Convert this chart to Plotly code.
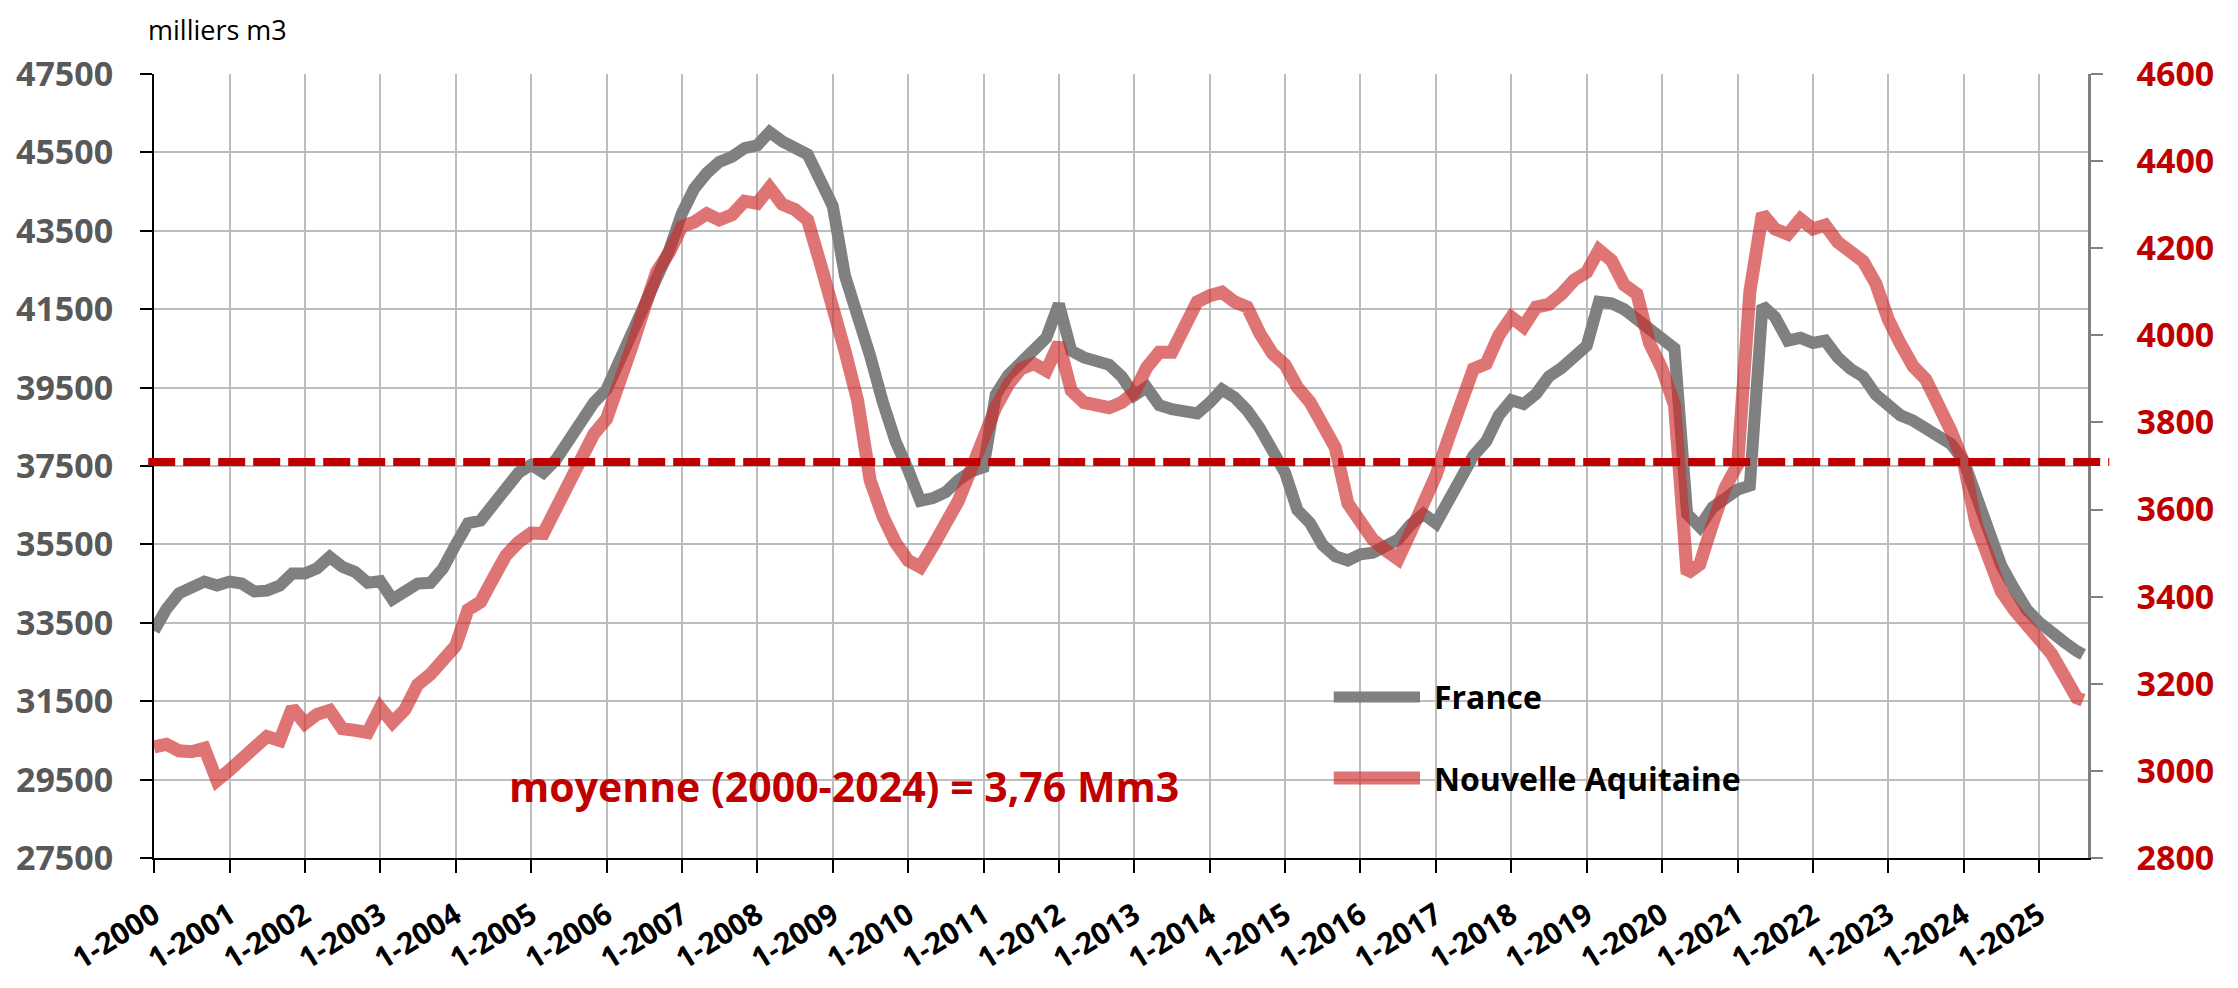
import plotly.graph_objects as go

# monthly series, read every 2 months (Jan, Mar, May, Jul, Sep, Nov) + last point Aug 2025
months = [f"{2000 + m // 12}-{m % 12 + 1:02d}-01" for m in range(0, 307, 2)] + ["2025-08-01"]

# France, milliers m3 (left axis)
france = [
    33300, 33850, 34250, 34400, 34550, 34450,  # 2000
    34550, 34500, 34300, 34320, 34450, 34760,  # 2001
    34760, 34890, 35180, 34930, 34800, 34520,  # 2002
    34560, 34100, 34300, 34500, 34520, 34890,  # 2003
    35490, 36040, 36110, 36540, 36940, 37330,  # 2004
    37530, 37330, 37660, 38130, 38590, 39120,  # 2005
    39450, 40110, 40970, 41560, 42200, 43010,  # 2006
    43940, 44570, 44970, 45260, 45390, 45610,  # 2007
    45680, 46020, 45780, 45650, 45450, 44790,  # 2008
    44130, 42350, 41430, 40310, 39120, 38130,  # 2009
    37400, 36610, 36680, 36830, 37140, 37360,  # 2010
    37470, 39320, 39820, 40130, 40500, 40770,  # 2011
    41630, 40440, 40270, 40210, 40080, 39780,  # 2012
    39300, 39510, 39050, 38950, 38890, 38840,  # 2013
    39120, 39450, 39250, 38920, 38460, 37840,  # 2014
    37330, 36380, 36050, 35490, 35200, 35090,  # 2015
    35250, 35290, 35420, 35620, 36010, 36280,  # 2016
    36040, 36610, 37270, 37760, 38130, 38790,  # 2017
    39180, 39080, 39340, 39780, 40000, 40270,  # 2018
    40570, 41690, 41650, 41500, 41230, 40970,  # 2019
    40770, 40500, 36280, 35950, 36440, 36700,  # 2020
    36900, 37000, 41590, 41300, 40700, 40770,  # 2021
    40640, 40700, 40270, 39980, 39780, 39320,  # 2022
    39030, 38790, 38660, 38460, 38290, 38060,  # 2023
    37630, 36810, 35950, 34960, 34370, 33840,  # 2024
    33510, 33220, 33010, 32780, 32690,         # 2025
]

# Nouvelle Aquitaine, milliers m3 (right axis)
nouvelle_aquitaine = [
    3055, 3061, 3046, 3044, 3052, 2978,  # 2000
    3002, 3026, 3050, 3079, 3070, 3145,  # 2001
    3109, 3130, 3139, 3097, 3093, 3088,  # 2002
    3145, 3111, 3141, 3198, 3222, 3257,  # 2003
    3287, 3370, 3388, 3442, 3495, 3525,  # 2004
    3546, 3545, 3602, 3659, 3703, 3774,  # 2005
    3808, 3899, 3970, 4059, 4146, 4190,  # 2006
    4250, 4260, 4279, 4265, 4277, 4308,  # 2007
    4303, 4339, 4301, 4289, 4265, 4166,  # 2008
    4071, 3964, 3851, 3667, 3584, 3524,  # 2009
    3483, 3468, 3516, 3566, 3620, 3691,  # 2010
    3768, 3834, 3887, 3923, 3935, 3919,  # 2011
    3982, 3873, 3846, 3840, 3834, 3846,  # 2012
    3869, 3926, 3961, 3961, 4024, 4077,  # 2013
    4091, 4099, 4077, 4065, 4004, 3958,  # 2014
    3932, 3881, 3847, 3792, 3742, 3614,  # 2015
    3578, 3531, 3507, 3486, 3549, 3612,  # 2016
    3679, 3762, 3840, 3923, 3935, 4000,  # 2017
    4042, 4020, 4065, 4071, 4095, 4127,  # 2018
    4145, 4196, 4172, 4116, 4095, 3982,  # 2019
    3923, 3840, 3453, 3474, 3566, 3650,  # 2020
    3703, 4100, 4279, 4244, 4232, 4267,  # 2021
    4244, 4253, 4214, 4194, 4170, 4119,  # 2022
    4036, 3980, 3929, 3899, 3842, 3780,  # 2023
    3707, 3566, 3489, 3412, 3370, 3335,  # 2024
    3303, 3269, 3219, 3168, 3162,        # 2025
]

years = list(range(2000, 2026))
tick_vals = [f"{y}-01-01" for y in years]
tick_text = [f"1-{y}" for y in years]

moyenne = 37600  # dashed reference line (left axis)
moyenne_label = "moyenne (2000-2024) = 3,76 Mm3"

GREY = "#808080"
RED_LINE = "rgba(204,41,41,0.65)"
DARK_RED = "#C00000"
FONT = "Open Sans"

fig = go.Figure()
fig.add_trace(go.Scatter(x=months, y=france, name="France", mode="lines",
                         line=dict(color=GREY, width=12), showlegend=False))
fig.add_trace(go.Scatter(x=months, y=nouvelle_aquitaine, name="Nouvelle Aquitaine", mode="lines",
                         line=dict(color=RED_LINE, width=13), yaxis="y2", showlegend=False))

# dashed average line
fig.add_shape(type="line", xref="paper", yref="y", x0=-0.003, x1=1.011, y0=moyenne, y1=moyenne,
              line=dict(color=DARK_RED, width=8, dash="27px,8px"))

# white box behind the average label
fig.add_shape(type="rect", xref="paper", yref="paper", x0=0.165, x1=0.5745, y0=0.032, y1=0.1505,
              fillcolor="white", line=dict(width=0), layer="between")
fig.add_annotation(text=moyenne_label, xref="paper", yref="paper", x=0.357, y=0.092,
                   xanchor="center", yanchor="middle", showarrow=False,
                   font=dict(family=FONT, size=41, color=DARK_RED, weight="bold"))

# legend drawn by hand (long thick keys)
for name, color, width, yp in [("France", GREY, 11, 0.2054), ("Nouvelle Aquitaine", RED_LINE, 13, 0.102)]:
    fig.add_shape(type="line", xref="paper", yref="paper", x0=0.610, x1=0.6546, y0=yp, y1=yp,
                  line=dict(color=color, width=width))
    fig.add_annotation(text=name, xref="paper", yref="paper", x=0.6608, y=yp, xanchor="left",
                       yanchor="middle", showarrow=False,
                       font=dict(family=FONT, size=32, color="black", weight="bold"))

# unit label, top-aligned to the figure edge so it is not clipped
fig.add_annotation(text="milliers m3", xref="paper", yref="paper", x=0.0326, y=1.083,
                   xanchor="center", yanchor="top", showarrow=False,
                   font=dict(family=FONT, size=27, color="black"))

# page body adds an 8px margin, so the figure is 16px smaller than the window
fig.update_layout(
    width=2222, height=972,
    margin=dict(l=146, r=142, t=66, b=122, autoexpand=False),
    plot_bgcolor="white", paper_bgcolor="white",
    xaxis=dict(type="date", range=["2000-01-01", "2025-08-25"], automargin=False,
               tickvals=tick_vals, ticktext=tick_text, tickangle=-32,
               tickfont=dict(family=FONT, size=30, color="black", weight="bold"),
               showgrid=True, gridcolor="#BDBDBD", gridwidth=1.5,
               showline=True, linecolor="black", linewidth=2,
               ticks="outside", ticklen=13, tickcolor="black", tickwidth=1.5,
               ticklabelstandoff=13),
    yaxis=dict(range=[27500, 47500], tick0=27500, dtick=2000, tickformat="d", automargin=False,
               tickfont=dict(family=FONT, size=34, color="#595959", weight="bold"),
               showgrid=True, gridcolor="#BDBDBD", gridwidth=1.5, zeroline=False,
               showline=True, linecolor="black", linewidth=2,
               ticks="outside", ticklen=12, tickcolor="black", tickwidth=1.5,
               ticklabelstandoff=20),
    yaxis2=dict(range=[2800, 4600], tick0=2800, dtick=200, tickformat="d", automargin=False,
                overlaying="y", side="right",
                tickfont=dict(family=FONT, size=34, color=DARK_RED, weight="bold"),
                showgrid=False, zeroline=False,
                showline=True, linecolor=GREY, linewidth=2.5,
                ticks="outside", ticklen=12, tickcolor=GREY, tickwidth=2,
                ticklabelstandoff=27),
)

fig.write_html("out.html")
